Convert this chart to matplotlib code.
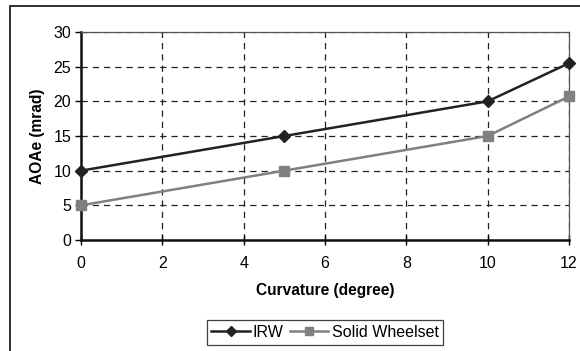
import matplotlib
matplotlib.use('Agg')
import matplotlib.pyplot as plt
from matplotlib.patches import Rectangle

plt.rcParams['font.family'] = ['Liberation Sans', 'DejaVu Sans']

curvature = [0, 5, 10, 12]
irw = [10, 15, 20, 25.5]
solid = [5, 10, 15, 20.7]

fig = plt.figure(figsize=(5.8, 3.51), dpi=100)
# outer frame (cropped on right/bottom)
fig.patches.append(Rectangle((10/580, -0.05), 1.0, 1 - 6/351 + 0.05,
                             transform=fig.transFigure, fill=False,
                             edgecolor='#222222', linewidth=1.3))

ax = fig.add_axes([81/580, 1 - 240/351, 488/580, 208/351])
ax.plot(curvature, irw, color='#222222', lw=1.8, marker='D', ms=6.5,
        label='IRW', clip_on=False, zorder=4)
ax.plot(curvature, solid, color='#808080', lw=1.8, marker='s', ms=7.5,
        label='Solid Wheelset', clip_on=False, zorder=3)

ax.set_xlim(0, 12)
ax.set_ylim(0, 30)
ax.set_xticks(range(0, 13, 2))
ax.set_yticks(range(0, 31, 5))
ax.grid(True, color='#222222', linestyle=(0, (5, 4)), linewidth=0.9)
ax.set_axisbelow(True)

for s in ['left', 'bottom']:
    ax.spines[s].set_linewidth(1.8)
    ax.spines[s].set_color('#111111')
for s in ['top', 'right']:
    ax.spines[s].set_linewidth(0.9)
    ax.spines[s].set_color('#555555')

ax.tick_params(axis='x', direction='inout', length=7, width=1, labelsize=11.5, pad=8)
ax.tick_params(axis='y', direction='out', length=4, width=1, labelsize=11.5, pad=3)

ax.set_xlabel('Curvature (degree)', fontsize=11.2, fontweight='bold', labelpad=9)
ax.set_ylabel('AOAe (mrad)', fontsize=11.2, fontweight='bold', labelpad=6)

leg = ax.legend(loc='upper center', bbox_to_anchor=(0.5, -0.385), ncol=2,
                frameon=True, fancybox=False, edgecolor='#111111',
                fontsize=11.5, handlelength=2.4, columnspacing=0.4,
                handletextpad=0.2, borderpad=0.3, borderaxespad=0,
                markerscale=0.8)
leg.get_frame().set_linewidth(0.9)

fig.savefig('out.png', dpi=100)
